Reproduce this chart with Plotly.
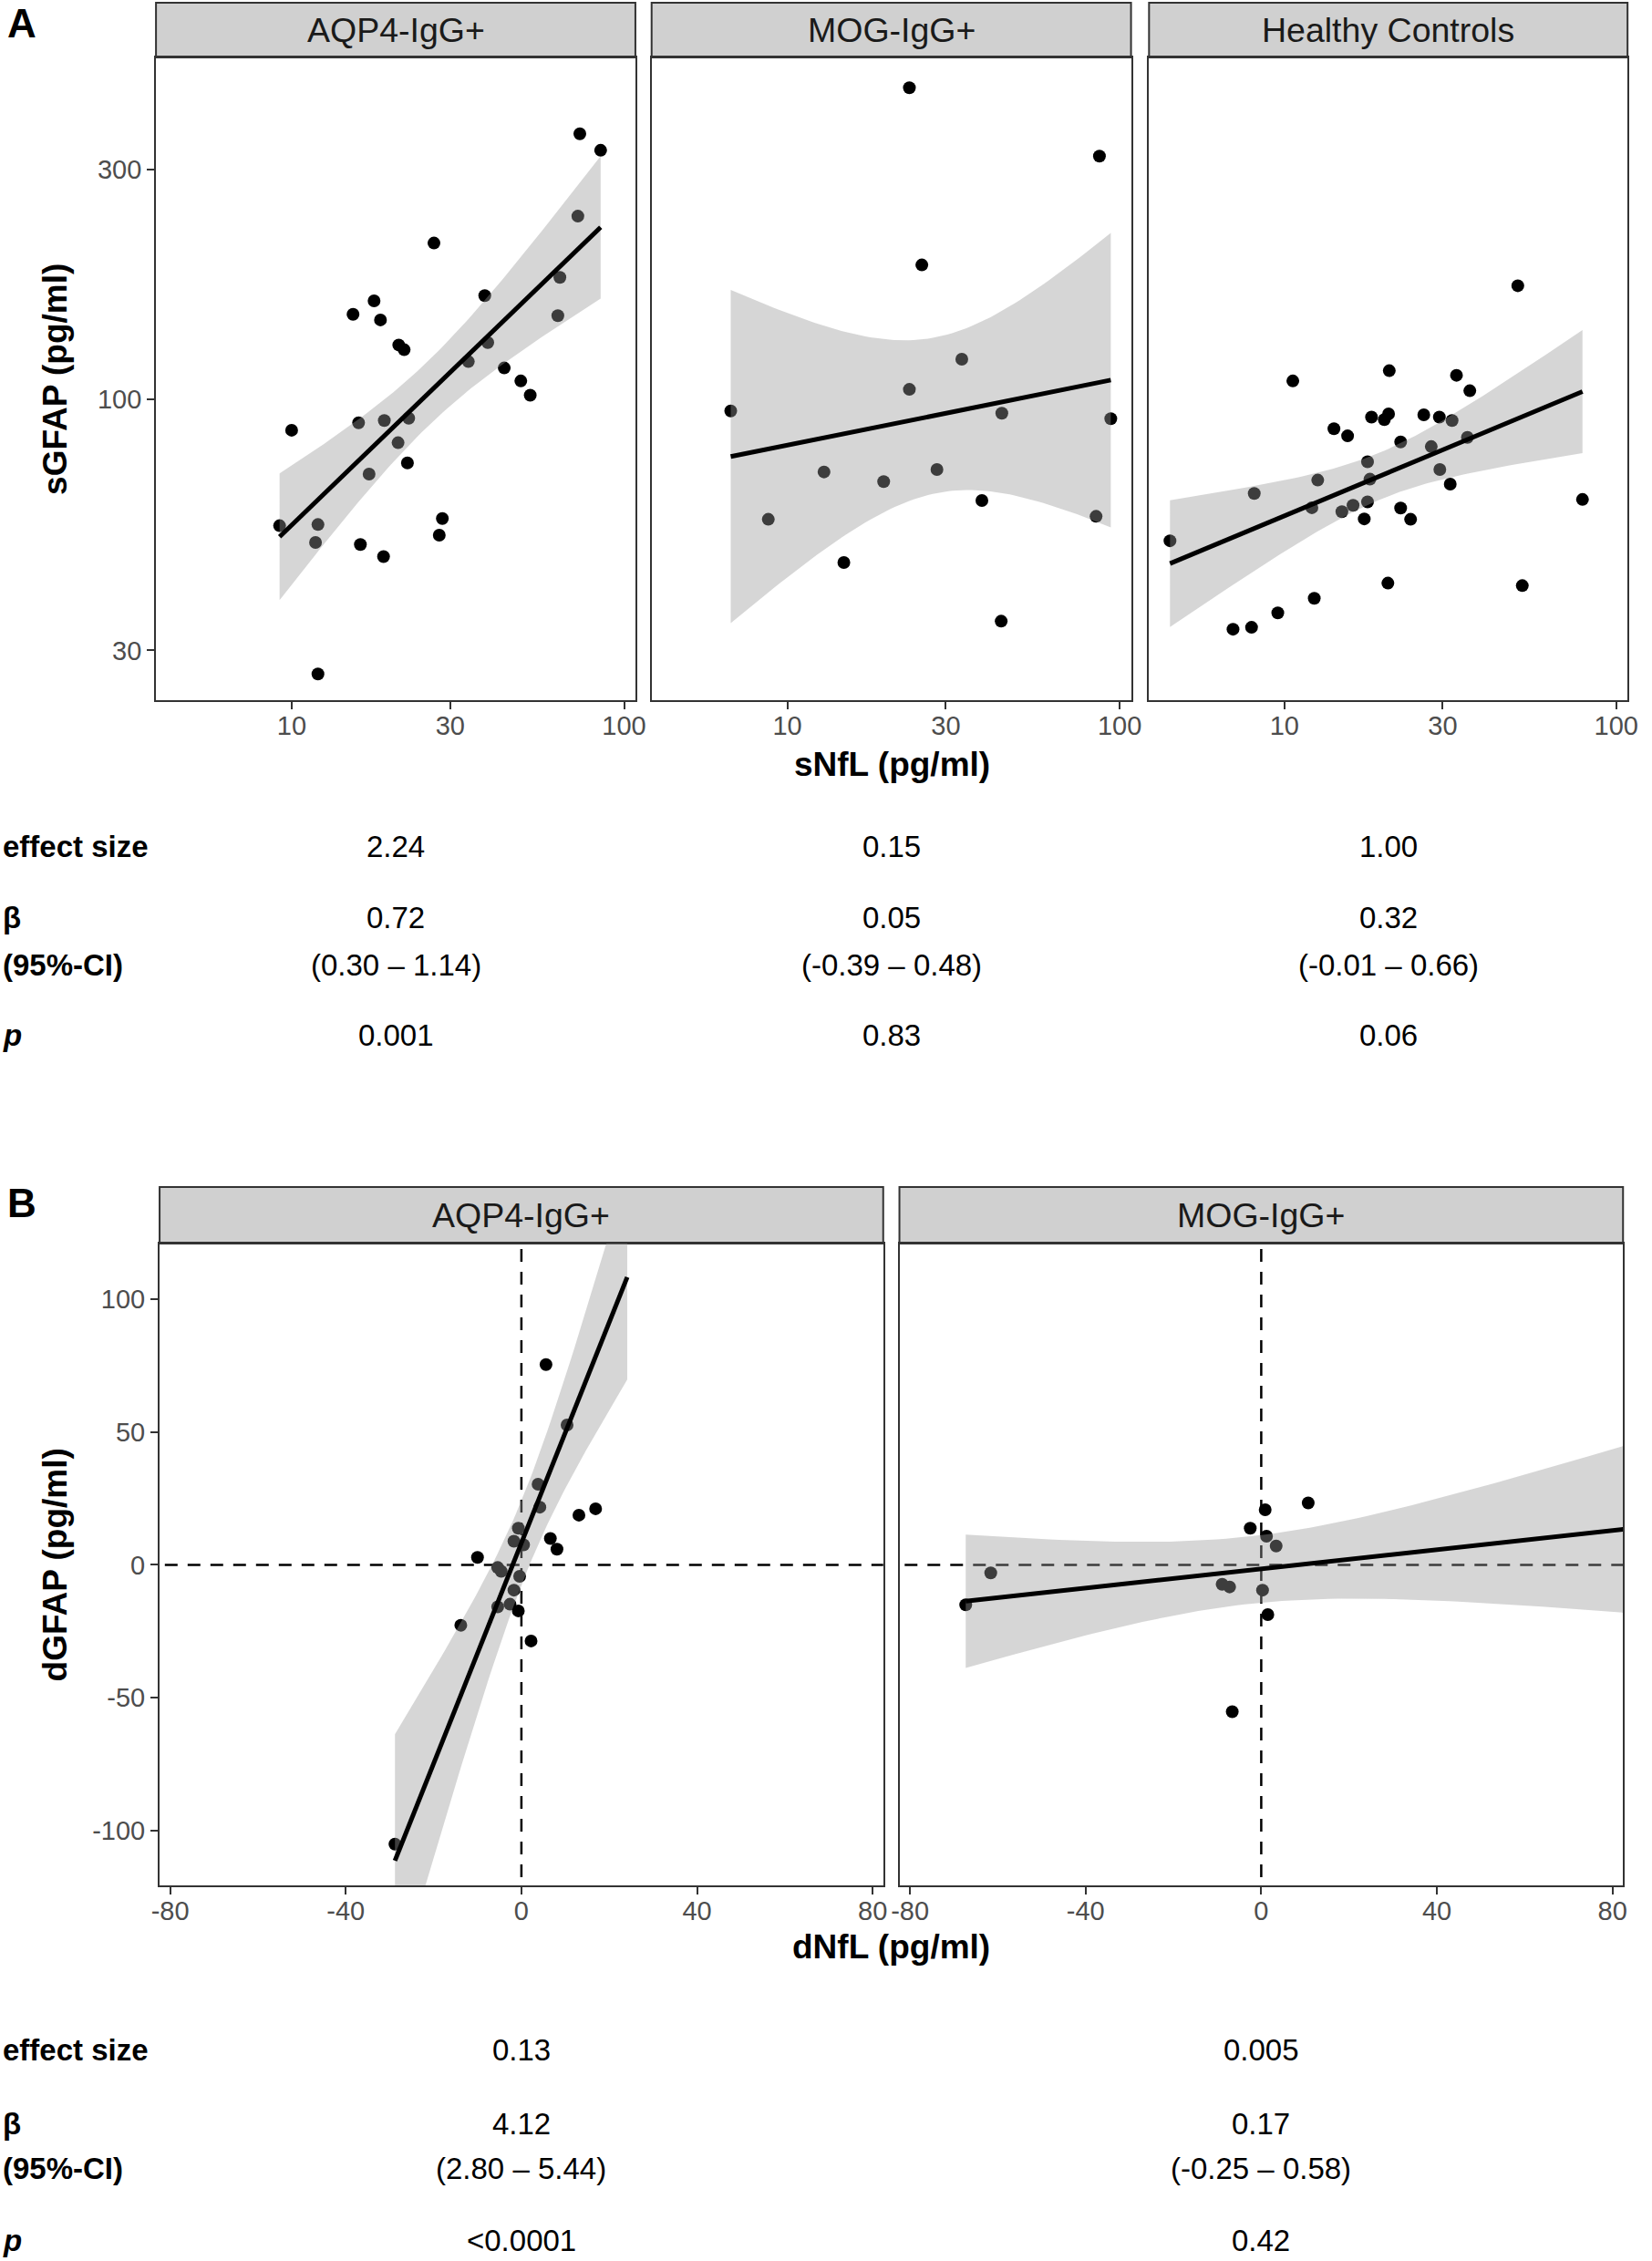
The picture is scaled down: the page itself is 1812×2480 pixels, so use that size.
import math
import numpy as np
import plotly.graph_objects as go

W, H = 1812, 2480
FONT = "Liberation Sans, Arial, Helvetica, sans-serif"

# ---------------- Data ----------------
panel_a_groups = ["AQP4-IgG+", "MOG-IgG+", "Healthy Controls"]
panel_b_groups = ["AQP4-IgG+", "MOG-IgG+"]

aqp4_snfl = [73.6, 85.0, 72.6, 26.8, 64.1, 38.1, 17.7, 15.3, 18.5, 63.2, 21.0, 21.8, 38.9, 34.0,
             43.6, 48.9, 52.2, 10.0, 15.9, 19.0, 22.5, 20.9, 22.3, 17.1, 9.2, 12.0, 11.8, 16.1,
             18.9, 28.4, 27.8, 12.0]
aqp4_sgfap = [356, 329, 240, 211, 179, 164, 160, 150, 146, 149, 129.5, 126.6, 131, 119.6,
              116, 109, 101.8, 86.1, 89.2, 90.2, 91.2, 81.1, 73.6, 69.8, 54.5, 54.8, 50.3, 49.8,
              47.0, 56.4, 52.1, 26.8]

mog_snfl = [23.3, 86.9, 25.4, 33.5, 23.3, 6.76, 44.2, 94.0, 12.9, 19.5, 28.2, 8.77, 38.5, 84.9,
            14.8, 44.0]
mog_sgfap = [444, 320, 190, 121, 104.7, 94.4, 93.4, 91.0, 70.5, 67.3, 71.3, 56.2, 61.5, 57.0,
             45.7, 34.5]

hc_snfl = [50.5, 10.6, 20.7, 33.0, 36.2, 18.3, 20.0, 20.6, 26.3, 29.3, 32.0, 14.1, 15.5, 22.4,
           35.6, 27.7, 17.8, 12.6, 18.1, 29.4, 31.6, 8.11, 17.8, 12.1, 16.1, 14.9, 22.4, 17.4,
           24.0, 79.1, 4.52, 20.5, 52.1, 12.3, 9.55, 7.96, 7.00]
hc_sgfap = [172, 109, 114.5, 112, 104, 91.7, 90.6, 93.1, 92.7, 91.7, 90.2, 86.7, 83.8, 81.4,
            83.2, 79.6, 74.0, 67.8, 68.1, 71.3, 66.5, 63.6, 61.1, 59.4, 60.1, 58.3, 59.3, 56.3,
            56.2, 61.8, 50.7, 41.4, 40.9, 38.5, 35.9, 33.5, 33.2]

# change values (last value of each lies outside the visible window)
aqp4_dnfl = [5.6, 10.4, 3.8, 4.2, 13.1, 16.9, -0.7, -1.7, 0.5, 6.6, 8.1, -10.0, -5.4, -4.6,
             -0.4, -1.7, -2.6, -5.4, -0.7, -13.8, 2.2, -28.8, 24.1]
aqp4_dgfap = [75.3, 52.6, 30.3, 21.7, 18.7, 21.1, 13.8, 8.9, 7.5, 9.9, 5.9, 2.8, -1.0, -2.4,
              -4.3, -9.5, -14.8, -15.8, -17.3, -22.7, -28.6, -105.0, 224.0]
mog_dnfl = [10.7, 0.9, -2.5, 1.2, 3.4, -61.6, -8.9, -7.2, 0.3, 1.5, -67.3, -6.6, 100.0]
mog_dgfap = [23.3, 20.7, 13.8, 10.8, 7.1, -3.0, -7.3, -8.3, -9.5, -18.7, -15.0, -55.2, 15.0]

a_effect = ["2.24", "0.15", "1.00"]
a_beta = ["0.72", "0.05", "0.32"]
a_ci = ["(0.30 – 1.14)", "(-0.39 – 0.48)", "(-0.01 – 0.66)"]
a_p = ["0.001", "0.83", "0.06"]
b_effect = ["0.13", "0.005"]
b_beta = ["4.12", "0.17"]
b_ci = ["(2.80 – 5.44)", "(-0.25 – 0.58)"]
b_p = ["<0.0001", "0.42"]

a_xticks = [10, 30, 100]
a_yticks = [30, 100, 300]
b_xticks = [-80, -40, 0, 40, 80]
b_yticks = [-100, -50, 0, 50, 100]


# ---------------- helpers ----------------
def t975(df):
    c = math.exp(math.lgamma((df + 1) / 2) - math.lgamma(df / 2)) / math.sqrt(df * math.pi)
    u = np.linspace(0, 8, 80001)
    f = c * (1 + u ** 2 / df) ** (-(df + 1) / 2)
    cdf = 0.5 + np.concatenate([[0], np.cumsum((f[1:] + f[:-1]) / 2 * np.diff(u))])
    return float(np.interp(0.975, cdf, u))


def lm_band(x, y, npts=80):
    x = np.asarray(x, float)
    y = np.asarray(y, float)
    n = len(x)
    xb = x.mean()
    sxx = ((x - xb) ** 2).sum()
    b = ((x - xb) * (y - y.mean())).sum() / sxx
    a = y.mean() - b * xb
    s = math.sqrt(((y - a - b * x) ** 2).sum() / (n - 2))
    g = np.linspace(x.min(), x.max(), npts)
    fit = a + b * g
    se = s * np.sqrt(1 / n + (g - xb) ** 2 / sxx)
    t = t975(n - 2)
    return g, fit, fit - t * se, fit + t * se


def px(v):
    return v / W


def py(v):
    return 1 - v / H


# ---------------- layout geometry (pixels) ----------------
a_cols = [(164, 696), (714, 1246), (1266, 1797)]
a_top, a_bot, a_strip_top = 63, 768, 3
b_cols = [(168, 971), (989, 1792)]
b_top, b_bot, b_strip_top = 1364, 2068, 1302

A_XR = [0.592, 2.034]
A_YR = [1.3735, 2.7103]
B_XR = [-82.4, 82.4]
B_YR = [-120.5, 120.8]

RIB = "rgba(153,153,153,0.4)"
MS = 14
LW = 5
fig = go.Figure()

a_data = [(aqp4_snfl, aqp4_sgfap), (mog_snfl, mog_sgfap), (hc_snfl, hc_sgfap)]
b_data = [(aqp4_dnfl, aqp4_dgfap), (mog_dnfl, mog_dgfap)]

axis_line = dict(showline=True, linecolor="#333333", linewidth=2, mirror=True,
                 showgrid=False, zeroline=False, ticks="outside", ticklen=8, tickwidth=2,
                 tickcolor="#333333", tickfont=dict(family=FONT, size=29, color="#4D4D4D"))

layout_axes = {}
k = 0
for i, (xs, ys) in enumerate(a_data):
    k += 1
    xa, ya = f"x{k}", f"y{k}"
    fig.add_trace(go.Scatter(x=xs, y=ys, mode="markers", xaxis=xa, yaxis=ya,
                             marker=dict(size=MS, color="black", line=dict(width=0)),
                             hoverinfo="skip"))
    g, fit, lo, hi = lm_band(np.log10(xs), np.log10(ys))
    gx = list(10 ** g)
    fig.add_trace(go.Scatter(x=gx + gx[::-1], y=list(10 ** hi) + list(10 ** lo)[::-1],
                             mode="lines", fill="toself", fillcolor=RIB, line=dict(width=0),
                             xaxis=xa, yaxis=ya, hoverinfo="skip"))
    fig.add_trace(go.Scatter(x=gx, y=list(10 ** fit), mode="lines", xaxis=xa, yaxis=ya,
                             line=dict(color="black", width=LW), hoverinfo="skip"))
    l, r = a_cols[i]
    layout_axes[f"xaxis{k}"] = dict(axis_line, type="log", range=A_XR, anchor=ya,
                                    domain=[px(l), px(r)], tickvals=a_xticks,
                                    ticktext=[str(v) for v in a_xticks],
                                    ticklabelstandoff=-7)
    layout_axes[f"yaxis{k}"] = dict(axis_line, type="log", range=A_YR, anchor=xa,
                                    domain=[py(a_bot), py(a_top)], tickvals=a_yticks,
                                    ticktext=[str(v) for v in a_yticks],
                                    showticklabels=(i == 0),
                                    ticks="outside" if i == 0 else "")

for i, (xs, ys) in enumerate(b_data):
    k += 1
    xa, ya = f"x{k}", f"y{k}"
    # reference lines at zero
    fig.add_trace(go.Scatter(x=[0, 0], y=[-1000, 1000], mode="lines", xaxis=xa, yaxis=ya,
                             line=dict(color="black", width=2.5, dash="14px,11px"),
                             hoverinfo="skip"))
    fig.add_trace(go.Scatter(x=[-1000, 1000], y=[0, 0], mode="lines", xaxis=xa, yaxis=ya,
                             line=dict(color="black", width=2.5, dash="14px,11px"),
                             hoverinfo="skip"))
    fig.add_trace(go.Scatter(x=xs, y=ys, mode="markers", xaxis=xa, yaxis=ya,
                             marker=dict(size=MS, color="black", line=dict(width=0)),
                             hoverinfo="skip"))
    g, fit, lo, hi = lm_band(xs, ys)
    gl = list(g)
    fig.add_trace(go.Scatter(x=gl + gl[::-1], y=list(hi) + list(lo)[::-1], mode="lines",
                             fill="toself", fillcolor=RIB, line=dict(width=0),
                             xaxis=xa, yaxis=ya, hoverinfo="skip"))
    fig.add_trace(go.Scatter(x=gl, y=list(fit), mode="lines", xaxis=xa, yaxis=ya,
                             line=dict(color="black", width=LW), hoverinfo="skip"))
    l, r = b_cols[i]
    layout_axes[f"xaxis{k}"] = dict(axis_line, range=B_XR, anchor=ya,
                                    domain=[px(l), px(r)], tickvals=b_xticks,
                                    ticktext=[str(v) for v in b_xticks],
                                    ticklabelstandoff=-7)
    layout_axes[f"yaxis{k}"] = dict(axis_line, range=B_YR, anchor=xa,
                                    domain=[py(b_bot), py(b_top)], tickvals=b_yticks,
                                    ticktext=[str(v) for v in b_yticks],
                                    showticklabels=(i == 0),
                                    ticks="outside" if i == 0 else "")

shapes = []
ann = []
strip_font = dict(family=FONT, size=37.5, color="#1A1A1A")
for (l, r), name in zip(a_cols, panel_a_groups):
    shapes.append(dict(type="rect", xref="paper", yref="paper", x0=px(l), x1=px(r),
                       y0=py(a_top), y1=py(a_strip_top), fillcolor="#D0D0D0",
                       line=dict(color="#333333", width=2), layer="below"))
    ann.append(dict(x=px((l + r) / 2), y=py((a_top + a_strip_top) / 2), text=name,
                    showarrow=False, xref="paper", yref="paper", font=strip_font,
                    xanchor="center", yanchor="middle"))
for (l, r), name in zip(b_cols, panel_b_groups):
    shapes.append(dict(type="rect", xref="paper", yref="paper", x0=px(l), x1=px(r),
                       y0=py(b_top), y1=py(b_strip_top), fillcolor="#D0D0D0",
                       line=dict(color="#333333", width=2), layer="below"))
    ann.append(dict(x=px((l + r) / 2), y=py((b_top + b_strip_top) / 2), text=name,
                    showarrow=False, xref="paper", yref="paper", font=strip_font,
                    xanchor="center", yanchor="middle"))

title_font = dict(family=FONT, size=37, color="black")
ann.append(dict(x=px((a_cols[0][0] + a_cols[-1][1]) / 2), y=py(838), text="<b>sNfL (pg/ml)</b>",
                showarrow=False, xref="paper", yref="paper", font=title_font,
                xanchor="center", yanchor="middle"))
ann.append(dict(x=px((b_cols[0][0] + b_cols[-1][1]) / 2), y=py(2135), text="<b>dNfL (pg/ml)</b>",
                showarrow=False, xref="paper", yref="paper", font=title_font,
                xanchor="center", yanchor="middle"))
ann.append(dict(x=px(52), y=py((a_top + a_bot) / 2), text="<b>sGFAP (pg/ml)</b>", textangle=-90,
                showarrow=False, xref="paper", yref="paper", font=title_font,
                xanchor="center", yanchor="middle"))
ann.append(dict(x=px(52), y=py((b_top + b_bot) / 2), text="<b>dGFAP (pg/ml)</b>", textangle=-90,
                showarrow=False, xref="paper", yref="paper", font=title_font,
                xanchor="center", yanchor="middle"))

letter_font = dict(family=FONT, size=44, color="black")
ann.append(dict(x=px(-3), y=py(-1), text="<b>A</b>", showarrow=False, xref="paper", yref="paper",
                font=letter_font, xanchor="left", yanchor="top"))
ann.append(dict(x=px(-3), y=py(1293), text="<b>B</b>", showarrow=False, xref="paper", yref="paper",
                font=letter_font, xanchor="left", yanchor="top"))

tab_font = dict(family=FONT, size=33, color="black")


def table(rows_y, cols, values_rows):
    labels = ["<b>effect size</b>", "<b>β</b>", "<b>(95%-CI)</b>", "<b><i>p</i></b>"]
    for yy, lab, vals in zip(rows_y, labels, values_rows):
        ann.append(dict(x=px(-8), y=py(yy), text=lab, showarrow=False, xref="paper",
                        yref="paper", font=tab_font, xanchor="left", yanchor="middle"))
        for (l, r), v in zip(cols, vals):
            ann.append(dict(x=px((l + r) / 2), y=py(yy), text=v, showarrow=False,
                            xref="paper", yref="paper", font=tab_font,
                            xanchor="center", yanchor="middle"))


table([928, 1007, 1058, 1136], a_cols, [a_effect, a_beta, a_ci, a_p])
table([2248, 2329, 2378, 2457], b_cols, [b_effect, b_beta, b_ci, b_p])

fig.update_layout(width=W, height=H, margin=dict(l=0, r=0, t=0, b=0), showlegend=False,
                  paper_bgcolor="white", plot_bgcolor="white", shapes=shapes, annotations=ann,
                  font=dict(family=FONT), **layout_axes)

fig.write_html("out.html", config={"displayModeBar": False},
               post_script="document.body.style.margin='0';document.body.style.overflow='hidden';")
